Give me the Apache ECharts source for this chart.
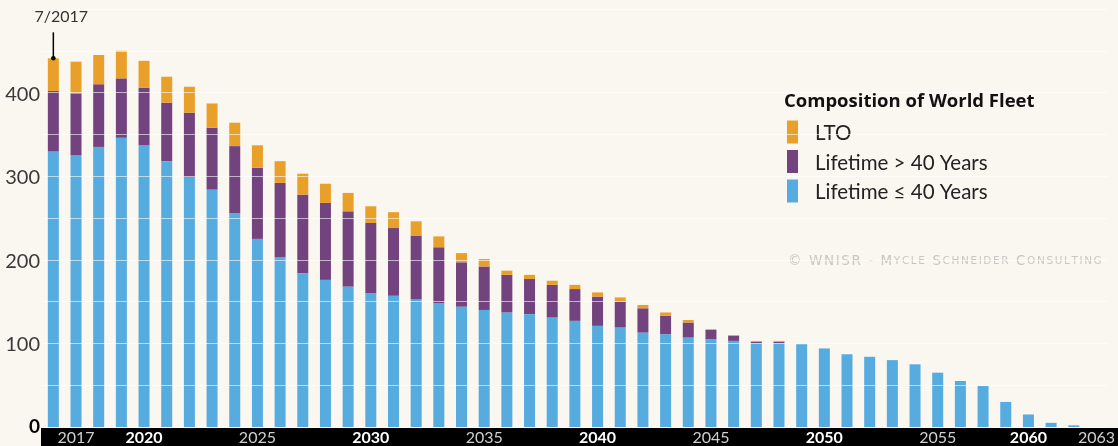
<!DOCTYPE html>
<html><head><meta charset="utf-8">
<script src="https://cdn.jsdelivr.net/npm/echarts@6/dist/echarts.min.js"></script>
<style>html,body{margin:0;padding:0;background:#FAF7F0}#c{width:1118px;height:446px}</style>
</head><body><div id="c"></div>
<script>
const categories = ['7/2017','2017','2018','2019','2020','2021','2022','2023','2024','2025','2026','2027','2028','2029','2030','2031','2032','2033','2034','2035','2036','2037','2038','2039','2040','2041','2042','2043','2044','2045','2046','2047','2048','2049','2050','2051','2052','2053','2054','2055','2056','2057','2058','2059','2060','2061','2062'];
const under40 = [330,325,335,346,337,318,299,284,256,225,203,184,176,168,160,157,153,148,144,140,137,135,131,127,121,119,113,111,107,105,103,100,100,99,94,87,84,80,75,65,55,49,30,15,5,2,0];
const over40  = [72,74,75,71,69,70,77,74,80,85,89,94,92,90,84,81,76,67,53,52,45,42,39,38,35,31,29,22,18,11,6,2,2,0,0,0,0,0,0,0,0,0,0,0,0,0,0];
const lto     = [39,38,35,33,32,31,31,29,28,27,26,25,23,22,20,19,17,13,11,9,5,5,5,5,5,5,4,4,3,1,1,1,1,0,0,0,0,0,0,0,0,0,0,0,0,0,0];
const seriesNames = ['Lifetime ≤ 40 Years','Lifetime > 40 Years','LTO'];
const tickLabels = ['2017','2020','2025','2030','2035','2040','2045','2050','2055','2060','2063'];
const tickSlots  = [1,4,9,14,19,24,29,34,39,43,46];
const boldTicks  = ['2020','2030','2040','2050','2060'];
const yLabels = [0,100,200,300,400];
const watermark = '© WNISR - Mycle Schneider Consulting';

const colors = ['#56ABDF','#72437E','#E9A02B'];
const chart = echarts.init(document.getElementById('c'), null, {renderer:'canvas'});
const mk = (name, data, color) => ({
  name, type:'bar', stack:'fleet', data, barWidth:11,
  itemStyle:{color}, emphasis:{disabled:true}
});
// small-caps rendering with letter spacing: capitals large, lowercase as small capitals
function smallCaps(str) {
  let out = '';
  for (const ch of str) {
    if (ch === ' ') { out += '{sp| }'; continue; }
    const lower = ch !== ch.toUpperCase();
    out += (lower ? '{s|' + ch.toUpperCase() + '}' : '{c|' + ch + '}');
  }
  return out;
}
const wmStyle = {
  text: smallCaps(watermark),
  rich:{
    c:{fontFamily:'DejaVu Sans', fontSize:13.5, fill:'#c9c7c2', padding:[0,1.6,0,0]},
    s:{fontFamily:'DejaVu Sans', fontSize:10.5, fill:'#c9c7c2', padding:[0,1.6,0,0]},
    sp:{fontFamily:'DejaVu Sans', fontSize:13.5, fill:'#c9c7c2', padding:[0,1.6,0,0]}
  }
};
chart.setOption({
  backgroundColor:'#FAF7F0',
  animation:false,
  grid:{left:42, right:10, top:9, bottom:19},
  title:{text:'Composition of World Fleet', left:784, top:92, padding:0,
    textStyle:{fontFamily:'Open Sans', fontWeight:'bold', fontSize:18.5, color:'#111'}},
  legend:{orient:'vertical', left:787, top:120.5, padding:0, itemWidth:11, itemHeight:23, itemGap:6,
    icon:'rect', selectedMode:false,
    formatter: name => '{t|' + name + '}',
    textStyle:{fontFamily:'Lato', fontSize:20.5, color:'#222', padding:[0,0,0,12],
      rich:{t:{fontFamily:'Lato', fontSize:20.5, color:'#222', lineHeight:24, verticalAlign:'bottom'}}},
    data:['LTO','Lifetime > 40 Years','Lifetime ≤ 40 Years']},
  xAxis:{type:'category', data:categories, z:5,
    axisLine:{show:false}, axisTick:{show:false},
    axisLabel:{interval:0, margin:3, verticalAlign:'top',
      formatter:(v, i) => {
        const k = tickSlots.indexOf(i);
        if (k < 0) return '';
        const t = tickLabels[k];
        return boldTicks.includes(t) ? '{b|' + t + '}' : '{n|' + t + '}';
      },
      rich:{
        b:{fontFamily:'Lato', fontWeight:'bold', fontSize:16, color:'#fff'},
        n:{fontFamily:'Lato', fontSize:16, color:'#cfcfcf'}
      }}},
  yAxis:{type:'value', min:0, max:500, interval:50, z:10,
    axisLine:{show:false}, axisTick:{show:false},
    splitLine:{show:true, lineStyle:{color:'rgba(255,255,255,0.6)', width:1}},
    axisLabel:{margin:2,
      formatter:v => yLabels.includes(v) ? (v === 0 ? '{z|0}' : '{n|' + v + '}') : '',
      rich:{
        z:{fontFamily:'Lato', fontWeight:'bold', fontSize:19, color:'#000'},
        n:{fontFamily:'Lato', fontSize:20, color:'#3a3a3a', padding:[3,0,0,0]}
      }}},
  series:[mk(seriesNames[0], under40, colors[0]), mk(seriesNames[1], over40, colors[1]), mk(seriesNames[2], lto, colors[2])]
});
// annotation pointing to the first bar's top (7/2017)
const total0 = under40[0] + over40[0] + lto[0];
const p = chart.convertToPixel({gridIndex:0}, [0, total0]);
chart.setOption({graphic:[
  {type:'rect', left:41, top:428, z:0, shape:{width:1077, height:18}, style:{fill:'#000'}},
  {type:'text', left:788, top:254, z:1, style:wmStyle},
  {type:'line', z:20, shape:{x1:p[0], y1:p[1]-26, x2:p[0], y2:p[1]}, style:{stroke:'#000', lineWidth:1.5}},
  {type:'circle', z:20, shape:{cx:p[0], cy:p[1], r:2.3}, style:{fill:'#000'}},
  {type:'text', z:20, x:p[0]+8, y:p[1]-41, style:{text:'7/2017', fontFamily:'Lato', fontSize:16, fill:'#333', align:'center', verticalAlign:'middle'}}
]});
</script></body></html>
